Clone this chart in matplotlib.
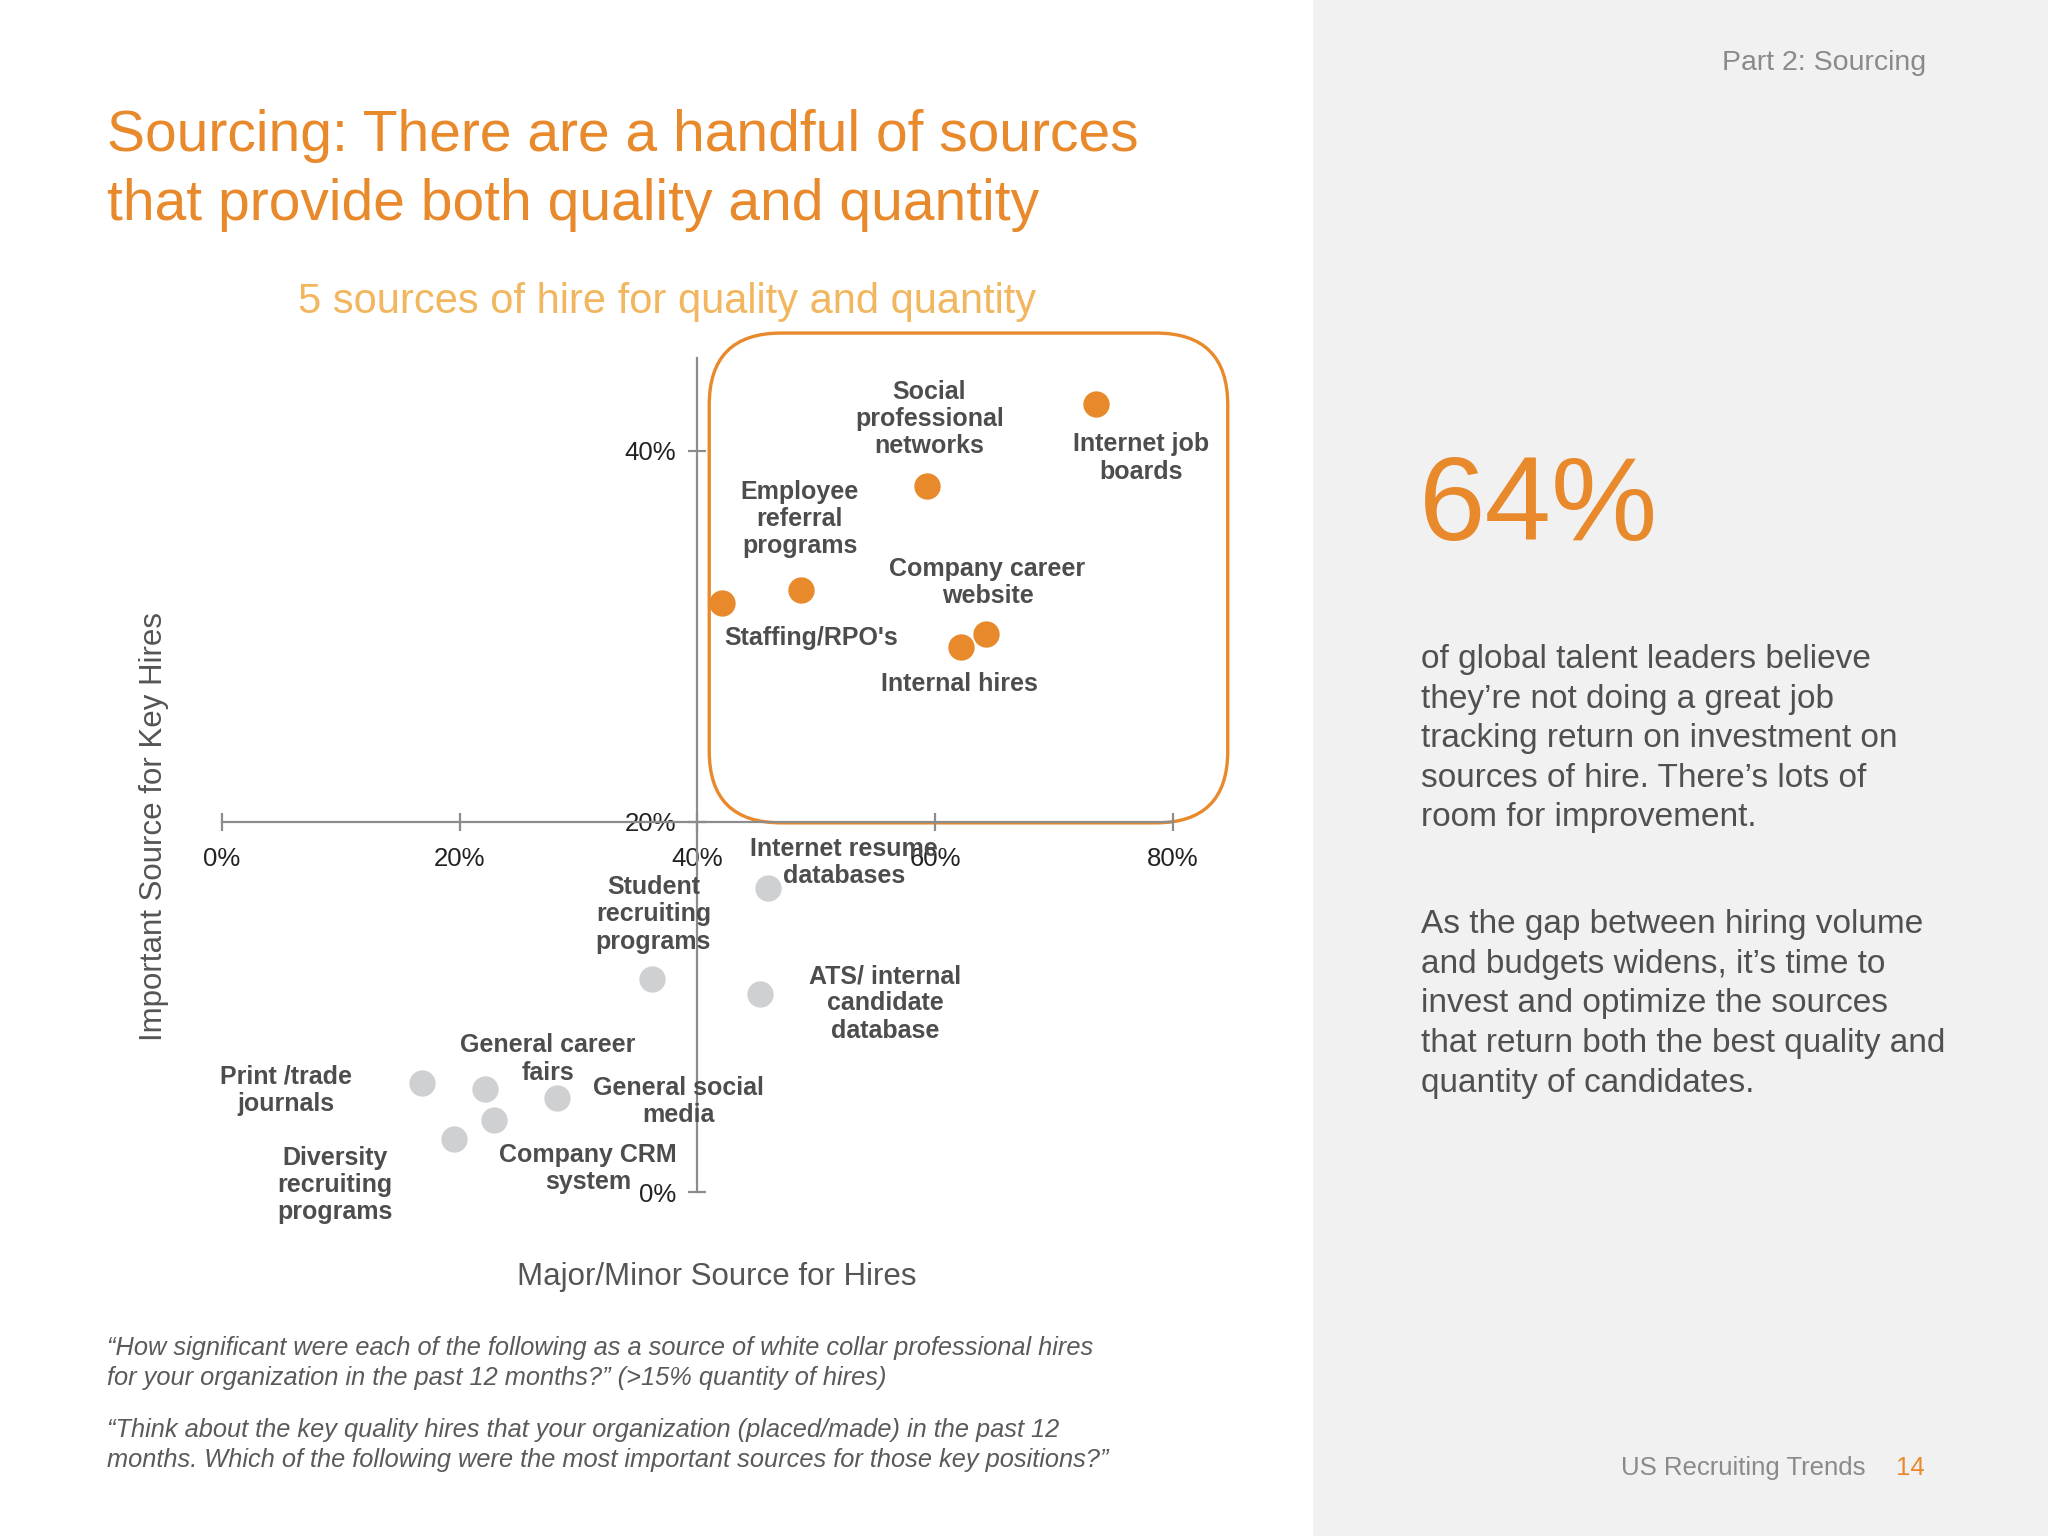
import matplotlib
matplotlib.use("Agg")
import matplotlib.pyplot as plt
from matplotlib.patches import FancyBboxPatch, Rectangle
from matplotlib import font_manager

# ---- data ----
top_names = ["Internet job boards", "Social professional networks",
             "Employee referral programs", "Staffing/RPO's",
             "Company career website", "Internal hires"]
top_major = [73.5, 59.3, 48.7, 42.1, 64.3, 62.2]       # x, %
top_important = [42.5, 38.1, 32.5, 31.8, 30.1, 29.4]   # y, %

low_names = ["Internet resume databases", "Student recruiting programs",
             "ATS/ internal candidate database", "Print /trade journals",
             "General career fairs", "General social media",
             "Company CRM system", "Diversity recruiting programs"]
low_major = [45.9, 36.2, 45.3, 16.8, 22.1, 28.2, 22.9, 19.5]
low_important = [16.4, 11.5, 10.7, 5.9, 5.6, 5.1, 3.9, 2.9]

x_ticks = [0, 20, 40, 60, 80]
y_ticks = [0, 20, 40]

# label text + where it sits (data coords)
top_labels = ["Internet job\nboards", "Social\nprofessional\nnetworks",
              "Employee\nreferral\nprograms", "Staffing/RPO's",
              "Company career\nwebsite", "Internal hires"]
top_label_pos = [(77.3, 39.6), (59.5, 41.7), (48.6, 36.3), (49.6, 29.9),
                 (64.4, 32.9), (62.0, 27.4)]
low_labels = ["Internet resume\ndatabases", "Student\nrecruiting\nprograms",
              "ATS/ internal\ncandidate\ndatabase", "Print /trade\njournals",
              "General career\nfairs", "General social\nmedia",
              "Company CRM\nsystem", "Diversity\nrecruiting\nprograms"]
low_label_pos = [(52.3, 17.8), (36.3, 15.0), (55.8, 10.2), (5.4, 5.5),
                 (27.4, 7.2), (38.4, 4.9), (30.8, 1.3), (9.5, 0.4)]

ORANGE = "#e8892b"
LIGHT_ORANGE = "#f2b65e"
GREY_DOT = "#cfd0d2"
TXT = "#4d4d4f"
AXC = "#8c8c8c"

names = {f.name for f in font_manager.fontManager.ttflist}
SANS = "Liberation Sans" if "Liberation Sans" in names else "DejaVu Sans"
NARROW = "Liberation Sans Narrow" if "Liberation Sans Narrow" in names else SANS
plt.rcParams["font.family"] = [SANS, "DejaVu Sans"]

fig = plt.figure(figsize=(20.48, 15.36), dpi=100)
fig.patch.set_facecolor("white")

# page layer in slide pixel units (1568 x 1176)
page = fig.add_axes([0, 0, 1, 1], zorder=0)
page.set_xlim(0, 1568); page.set_ylim(1176, 0); page.axis("off")
page.add_patch(Rectangle((1005, 0), 563, 1176, color="#f1f1f2", lw=0))

page.text(82, 104, "Sourcing: There are a handful of sources", color=ORANGE,
          fontsize=41, va="center", ha="left")
page.text(82, 157, "that provide both quality and quantity", color=ORANGE,
          fontsize=41, va="center", ha="left")
page.text(511, 231, "5 sources of hire for quality and quantity",
          color=LIGHT_ORANGE, fontsize=30, va="center", ha="center")

page.add_patch(FancyBboxPatch((543, 255), 397, 375,
               boxstyle="round,pad=0,rounding_size=55",
               fill=False, ec=ORANGE, lw=2.4, zorder=1))

page.text(118, 633, "Important Source for Key Hires", rotation=90,
          color="#555555", fontsize=22.5, ha="center", va="center")
page.text(549, 978, "Major/Minor Source for Hires", color="#555555",
          fontsize=22.5, ha="center", va="center")

foot = [("\u201cHow significant were each of the following as a source of white collar professional hires", 1032),
        ("for your organization in the past 12 months?\u201d (>15% quantity of hires)", 1055),
        ("\u201cThink about the key quality hires that your organization (placed/made) in the past 12", 1095),
        ("months. Which of the following were the most important sources for those key positions?\u201d", 1118)]
for s, yy in foot:
    page.text(82, yy, s, color="#5a5a5a", fontsize=18.3, style="italic",
              family=[NARROW, "DejaVu Sans"], ha="left", va="center")

# right panel
page.text(1475, 48, "Part 2: Sourcing", color="#8a8a8a", fontsize=20.5,
          ha="right", va="center")
page.text(1086, 390, "64%", color=ORANGE, fontsize=86, ha="left", va="center")
para1 = ("of global talent leaders believe\nthey\u2019re not doing a great job\n"
         "tracking return on investment on\nsources of hire. There\u2019s lots of\n"
         "room for improvement.")
para2 = ("As the gap between hiring volume\nand budgets widens, it\u2019s time to\n"
         "invest and optimize the sources\nthat return both the best quality and\n"
         "quantity of candidates.")
page.text(1088, 493, para1, color="#505050", fontsize=24, ha="left",
          va="top", linespacing=1.36)
page.text(1088, 696, para2, color="#505050", fontsize=24, ha="left",
          va="top", linespacing=1.36)
page.text(1428, 1124, "US Recruiting Trends", color="#8a8a8a", fontsize=18.5,
          ha="right", va="center")
page.text(1463, 1124, "14", color=ORANGE, fontsize=18.5, ha="center", va="center")

# ---- chart ----
ax = fig.add_axes([79 / 1568, 1 - 984 / 1176, 910 / 1568, 781 / 1176], zorder=2)
ax.set_facecolor("none")
ax.set_xlim(-10, 90)
ax.set_ylim(-5, 50)

ax.scatter(low_major, low_important, s=360, color=GREY_DOT, lw=0, zorder=3)
ax.scatter(top_major, top_important, s=360, color=ORANGE, lw=0, zorder=3)

for lab, (lx, ly) in zip(top_labels + low_labels, top_label_pos + low_label_pos):
    ax.text(lx, ly, lab, ha="center", va="center", fontsize=18,
            fontweight="bold", color=TXT, linespacing=1.17, zorder=4)

for side in ("top", "right"):
    ax.spines[side].set_visible(False)
ax.spines["left"].set_position(("data", 40))
ax.spines["bottom"].set_position(("data", 20))
ax.spines["left"].set_bounds(0, 45)
ax.spines["bottom"].set_bounds(0, 80)
for side in ("left", "bottom"):
    ax.spines[side].set_color(AXC)
    ax.spines[side].set_linewidth(1.6)

ax.set_xticks(x_ticks)
ax.set_xticklabels([f"{v}%" for v in x_ticks])
ax.set_yticks(y_ticks)
ax.set_yticklabels([f"{v}%" for v in y_ticks])
ax.tick_params(axis="both", direction="inout", length=13, width=1.6,
               color=AXC, labelsize=18.5, labelcolor="#222222")
ax.tick_params(axis="x", pad=12)
ax.tick_params(axis="y", pad=9)
for t in ax.get_xticklabels() + ax.get_yticklabels():
    t.set_family([NARROW, "DejaVu Sans"])

fig.savefig("out.png", dpi=100)
